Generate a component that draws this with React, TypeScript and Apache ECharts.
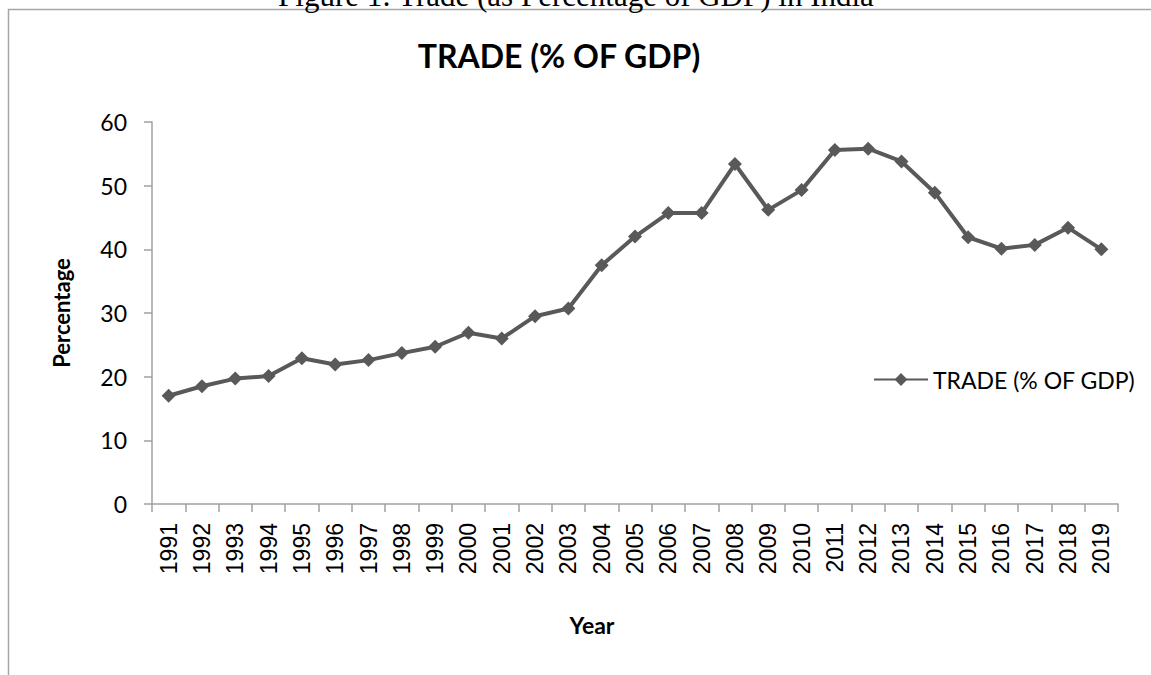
import React, { useEffect, useRef } from "react";
import * as echarts from "echarts";

const years = [
  "1991", "1992", "1993", "1994", "1995", "1996", "1997", "1998", "1999", "2000",
  "2001", "2002", "2003", "2004", "2005", "2006", "2007", "2008", "2009", "2010",
  "2011", "2012", "2013", "2014", "2015", "2016", "2017", "2018", "2019",
];

const tradePct = [
  17.0, 18.5, 19.7, 20.1, 22.9, 21.9, 22.6, 23.7, 24.7, 26.9,
  26.0, 29.5, 30.7, 37.5, 42.0, 45.7, 45.7, 53.4, 46.2, 49.3,
  55.6, 55.8, 53.8, 48.9, 41.9, 40.1, 40.7, 43.4, 40.0,
];

const seriesName = "TRADE (% OF GDP)";
const chartTitle = "TRADE (% OF GDP)";
const caption = "Figure 1: Trade (as Percentage of GDP) in India";
const xTitle = "Year";
const yTitle = "Percentage";

const yMin = 0;
const yMax = 60;
const yStep = 10;

export default function App() {
  const ref = useRef<HTMLDivElement>(null);

  useEffect(() => {
    if (!ref.current) return;
    const chart = echarts.init(ref.current, null, { renderer: "svg" });
    const axisGray = "#a0a0a0";
    chart.setOption({
      animation: false,
      backgroundColor: "#ffffff",
      graphic: [
        {
          type: "rect",
          z: 0,
          shape: { x: 8.5, y: 9.5, width: 1300, height: 800 },
          style: { fill: "none", stroke: "#a6a6a6", lineWidth: 1.5 },
        },
        {
          type: "text",
          x: 576,
          y: -5,
          style: {
            text: caption,
            font: '31px "Liberation Serif"',
            fontSize: 31,
            fontFamily: "Liberation Serif",
            fill: "#000000",
            textAlign: "center",
            align: "center",
            textVerticalAlign: "middle",
            verticalAlign: "middle",
          },
        },
        {
          type: "text",
          x: 559,
          y: 55,
          style: {
            text: chartTitle,
            font: 'bold 32px Lato',
            fontSize: 32,
            fontFamily: "Lato",
            fontWeight: "bold",
            fill: "#000000",
            textAlign: "center",
            align: "center",
            textVerticalAlign: "middle",
            verticalAlign: "middle",
          },
        },
        {
          type: "text",
          x: 592,
          y: 625,
          style: {
            text: xTitle,
            font: 'bold 23px Lato',
            fontSize: 23,
            fontFamily: "Lato",
            fontWeight: "bold",
            fill: "#000000",
            textAlign: "center",
            align: "center",
            textVerticalAlign: "middle",
            verticalAlign: "middle",
          },
        },
      ],
      grid: { left: 152, right: 33, top: 122, bottom: 171 },
      legend: {
        data: [seriesName],
        left: 873,
        top: 368,
        padding: 0,
        itemWidth: 54,
        itemHeight: 16,
        textStyle: { fontFamily: "Lato", fontSize: 23, color: "#000000" },
      },
      xAxis: {
        type: "category",
        data: years,
        boundaryGap: true,
        axisLine: { show: true, lineStyle: { color: axisGray, width: 1.5 } },
        axisTick: { show: true, interval: 0, length: 8, lineStyle: { color: axisGray, width: 1.5 } },
        axisLabel: {
          interval: 0,
          rotate: 90,
          margin: 19,
          fontFamily: "Liberation Sans",
          fontSize: 23,
          color: "#000000",
        },
        splitLine: { show: false },
      },
      yAxis: {
        type: "value",
        min: yMin,
        max: yMax,
        interval: yStep,
        name: yTitle,
        nameLocation: "middle",
        nameGap: 80,
        nameTextStyle: { fontFamily: "Lato", fontWeight: "bold", fontSize: 22, color: "#000000" },
        axisLine: { show: true, lineStyle: { color: axisGray, width: 1.5 } },
        axisTick: { show: true, length: 8, lineStyle: { color: axisGray, width: 1.5 } },
        axisLabel: { margin: 25, fontFamily: "Lato", fontSize: 23, color: "#000000" },
        splitLine: { show: false },
      },
      series: [
        {
          name: seriesName,
          type: "line",
          data: tradePct,
          symbol: "diamond",
          symbolSize: 14,
          itemStyle: { color: "#595959" },
          lineStyle: { color: "#595959", width: 4 },
        },
      ],
    });
    return () => chart.dispose();
  }, []);

  return (
    <div
      ref={ref}
      style={{ position: "fixed", left: 0, top: 0, width: 1151, height: 675 }}
    />
  );
}
